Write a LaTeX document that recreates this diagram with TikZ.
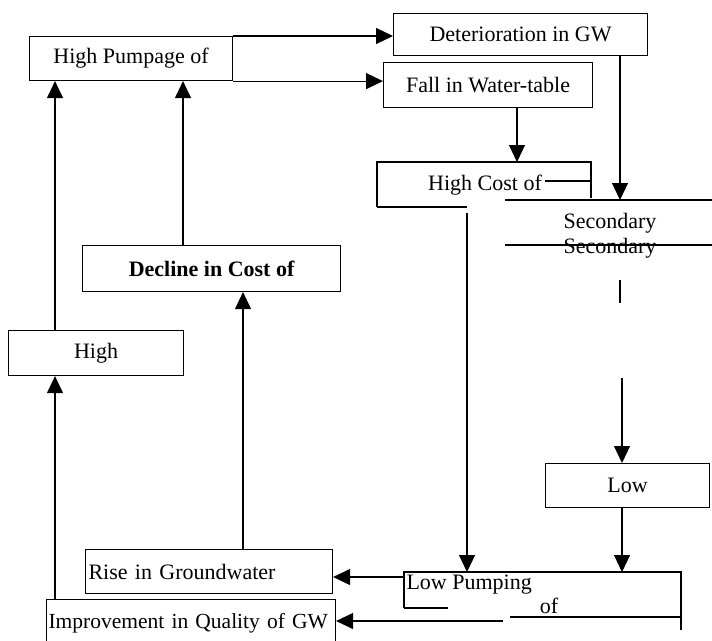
\documentclass[tikz,border=0pt]{standalone}
\usepackage{fontspec}
\setmainfont{Liberation Serif}
\usetikzlibrary{arrows.meta}
\begin{document}
\begin{tikzpicture}[x=1pt,y=-1pt,line width=1.1pt,
  every node/.style={font=\fontsize{22}{25}\selectfont},
  box/.style={draw,inner sep=0pt,anchor=north west},
  lbox/.style={draw,inner ysep=0pt,inner xsep=3pt,anchor=north west,align=left},
  txt/.style={inner sep=0pt},
  arr/.style={-{Triangle[length=17pt,width=16pt]}}]
\useasboundingbox[fill=white] (0,0) rectangle (712,640);
% boxes
\node[box,minimum width=203pt,minimum height=44pt] (hp) at (29,36) {High Pumpage of};
\node[box,minimum width=254pt,minimum height=42pt] (det) at (393,13) {Deterioration in GW};
\node[box,minimum width=209pt,minimum height=45pt] (fall) at (383,62) {Fall in Water-table};
\node[txt] (hc) at (485,185) {High Cost of};
\node[txt] (sec1) at (610,223) {Secondary};
\node[txt] (sec2) at (610,248) {Secondary};
\node[box,minimum width=164pt,minimum height=44pt] (low) at (545,463) {Low};
\node[txt,anchor=west] (lp) at (406,585) {Low Pumping};
\node[txt] (lpof) at (549,606) {of};
\node[box,minimum width=258pt,minimum height=46pt,font=\fontsize{22}{25}\selectfont\bfseries] (dec) at (82,245) {Decline in Cost of};
\node[box,minimum width=175pt,minimum height=45pt] (hi) at (8,330) {High};
\node[lbox,text width=241pt,minimum height=44pt] (rise) at (85,549) {Rise in Groundwater};
\node[lbox,inner xsep=2pt,text width=285pt,minimum height=48pt,font=\fontsize{21.5}{25}\selectfont] (imp) at (46,599) {\mbox{Improvement in Quality of GW}};
% partial borders
\draw (377,207) -- (377,162) -- (591,162) -- (591,198);
\draw (377,207) -- (467,207);
\draw (545,181) -- (591,181);
\draw (505,200) -- (712,200);
\draw (505,245) -- (712,245);
\draw (404,608) -- (404,572) -- (681,572) -- (681,630);
\draw (404,608) -- (448,608);
\draw (510,617) -- (681,617);
% coordinates
\coordinate (hcT) at (517,162);
\coordinate (secT) at (620,200);
\coordinate (gA) at (620,280);
\coordinate (gB) at (620,303);
\coordinate (gC) at (622,378);
\coordinate (lpT1) at (467,572);
\coordinate (lpT2) at (622,572);
\coordinate (hcB) at (467,213);
\coordinate (lpL1) at (404,577);
\coordinate (lpL2) at (503,621);
\coordinate (xA) at (55,0);
\coordinate (xB) at (183,0);
\coordinate (xC) at (243,0);
% connectors
\draw[arr] (hp.north east) -- (hp.north east -| det.west);
\draw[arr] (hp.south east) -- (hp.south east -| fall.west);
\draw[arr] (fall.south -| hcT) -- (hcT);
\draw[arr] (det.south -| secT) -- (secT);
\draw (gA) -- (gB);
\draw[arr] (gC) -- (low.north -| gC);
\draw[arr] (low.south -| lpT2) -- (lpT2);
\draw[arr] (hcB) -- (lpT1);
\draw[arr] (lpL1) -- (rise.east |- lpL1);
\draw[arr] (lpL2) -- (imp.east |- lpL2);
\draw[arr] (imp.north -| xA) -- (hi.south -| xA);
\draw[arr] (hi.north -| xA) -- (hp.south -| xA);
\draw[arr] (dec.north -| xB) -- (hp.south -| xB);
\draw[arr] (rise.north -| xC) -- (dec.south -| xC);
\end{tikzpicture}
\end{document}
